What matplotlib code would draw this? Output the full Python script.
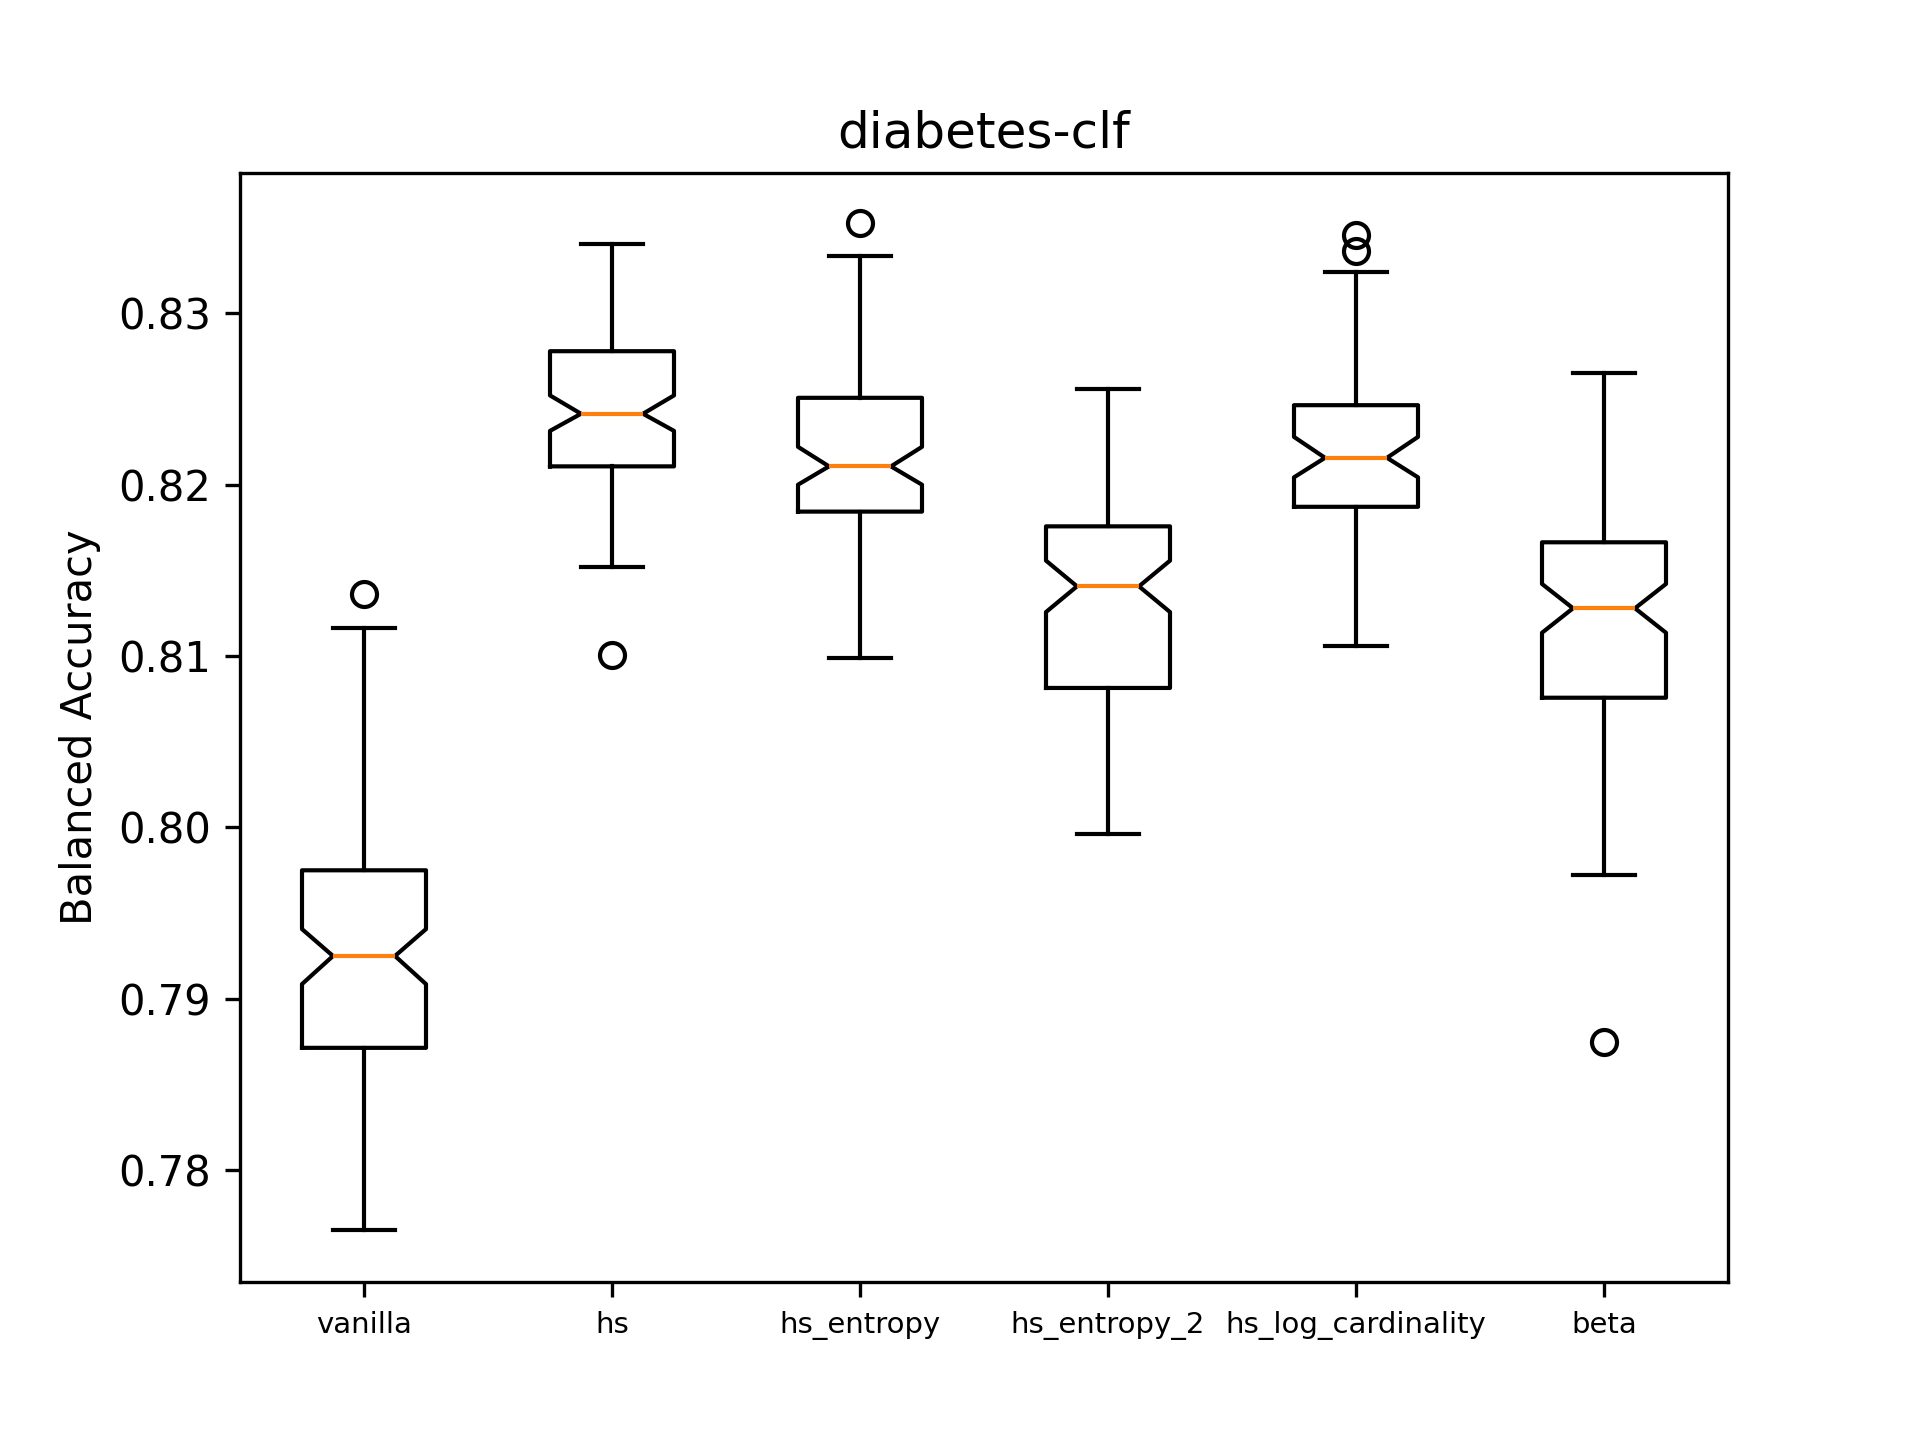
import matplotlib
matplotlib.use("Agg")
import matplotlib.pyplot as plt

labels = ["vanilla", "hs", "hs_entropy", "hs_entropy_2", "hs_log_cardinality", "beta"]
whislo = [0.7765, 0.81521, 0.80986, 0.79964, 0.81057, 0.79721]
q1 = [0.78714, 0.82107, 0.81843, 0.80814, 0.81871, 0.80757]
med = [0.7925, 0.82414, 0.82107, 0.81407, 0.82157, 0.81279]
q3 = [0.7975, 0.82779, 0.82507, 0.81757, 0.82464, 0.81664]
whishi = [0.81164, 0.83407, 0.83336, 0.82557, 0.83243, 0.8265]
cilo = [0.79086, 0.82314, 0.82, 0.81257, 0.82043, 0.81136]
cihi = [0.79407, 0.82521, 0.82221, 0.81557, 0.82279, 0.81421]
fliers = [[0.81364], [0.81007], [0.83529], [], [0.83457, 0.83364], [0.7875]]

stats = [dict(label=l, whislo=a, q1=b, med=c, q3=d, whishi=e, cilo=f, cihi=g, fliers=h)
         for l, a, b, c, d, e, f, g, h in zip(labels, whislo, q1, med, q3, whishi, cilo, cihi, fliers)]

fig, ax = plt.subplots(figsize=(6.4, 4.8), dpi=300)
ax.bxp(stats, shownotches=True)
ax.set_title("diabetes-clf")
ax.set_ylabel("Balanced Accuracy")
ax.set_ylim(0.7735, 0.8382)
ax.tick_params(axis="x", labelsize=7)
fig.savefig("out.png")
